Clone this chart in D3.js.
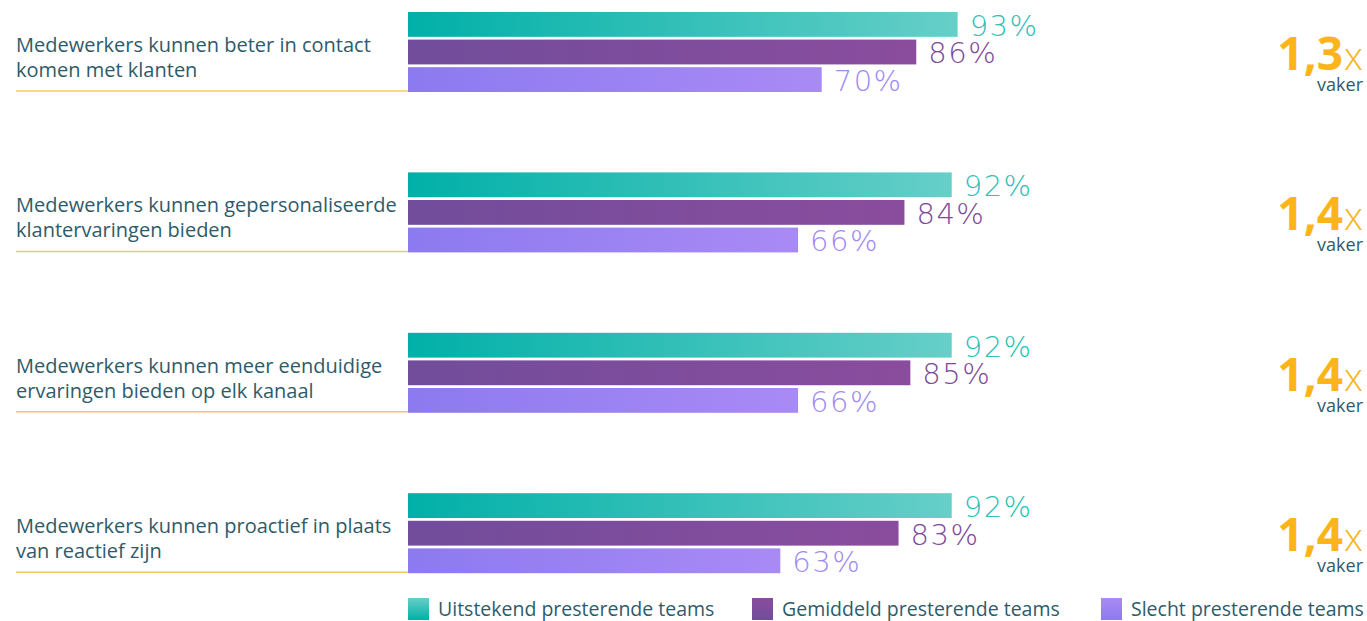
<!DOCTYPE html>
<html>
<head>
<meta charset="utf-8">
<script src="https://cdn.jsdelivr.net/npm/d3@7/dist/d3.min.js"></script>
<style>
  html, body { margin: 0; padding: 0; background: #ffffff; }
  svg { display: block; }
</style>
</head>
<body>
<svg id="chart" width="1367" height="621"></svg>
<script>
// Statements (two lines each)
const categories = [
  ["Medewerkers kunnen beter in contact", "komen met klanten"],
  ["Medewerkers kunnen gepersonaliseerde", "klantervaringen bieden"],
  ["Medewerkers kunnen meer eenduidige", "ervaringen bieden op elk kanaal"],
  ["Medewerkers kunnen proactief in plaats", "van reactief zijn"]
];
const seriesNames = ["Uitstekend presterende teams", "Gemiddeld presterende teams", "Slecht presterende teams"];
const highValues = [93, 92, 92, 92];
const avgValues = [86, 84, 85, 83];
const lowValues = [70, 66, 66, 63];
const multipliers = ["1,3", "1,4", "1,4", "1,4"];

const seriesColors = [
  { from: "#00b0a8", to: "#66cfc8", text: "#2fbfb5" },
  { from: "#714d9b", to: "#8a4c9d", text: "#7d4a9a" },
  { from: "#8c7af0", to: "#a98af5", text: "#a08af2" }
];

const svg = d3.select("#chart");
const defs = svg.append("defs");
seriesColors.forEach((c, i) => {
  const g = defs.append("linearGradient").attr("id", "bar" + i)
    .attr("x1", "0%").attr("x2", "100%").attr("y1", "0%").attr("y2", "0%");
  g.append("stop").attr("offset", "0%").attr("stop-color", c.from);
  g.append("stop").attr("offset", "100%").attr("stop-color", c.to);
  const v = defs.append("linearGradient").attr("id", "leg" + i)
    .attr("x1", "0%").attr("x2", "0%").attr("y1", "0%").attr("y2", "100%");
  v.append("stop").attr("offset", "0%").attr("stop-color", c.to);
  v.append("stop").attr("offset", "100%").attr("stop-color", c.from);
});

const rows = categories.map((lines, i) => ({
  key: i, lines, mult: multipliers[i],
  values: [highValues[i], avgValues[i], lowValues[i]]
}));

const y = d3.scaleBand().domain(rows.map(d => d.key)).range([12, 12 + 4 * 160.4]).padding(0);
const yInner = d3.scaleBand().domain([0, 1, 2]).range([0, 80]).paddingInner(0.1);
const x = d3.scaleLinear().domain([0, 100]).range([408, 999]);

const labelFont = "'Open Sans', sans-serif";
const textColor = "#2e5b6a";

const grp = svg.selectAll("g.row").data(rows).join("g")
  .attr("class", "row")
  .attr("transform", d => `translate(0,${y(d.key)})`);

// Statement text
grp.each(function (d) {
  const g = d3.select(this);
  d.lines.forEach((line, j) => {
    g.append("text")
      .attr("x", 16).attr("y", 40 + j * 25)
      .attr("font-family", labelFont).attr("font-size", 20)
      .attr("fill", textColor)
      .text(line);
  });
});

// Separator under each statement
grp.append("line")
  .attr("x1", 16).attr("x2", x(0))
  .attr("y1", 79).attr("y2", 79)
  .attr("stroke", "#f8c46a").attr("stroke-width", 1.5);

// Bars
grp.selectAll("rect.bar").data(d => d.values.map((v, i) => ({ v, i }))).join("rect")
  .attr("class", "bar")
  .attr("x", x(0))
  .attr("y", d => yInner(d.i))
  .attr("width", d => x(d.v) - x(0))
  .attr("height", yInner.bandwidth())
  .attr("fill", d => `url(#bar${d.i})`);

// Value labels
grp.selectAll("text.val").data(d => d.values.map((v, i) => ({ v, i }))).join("text")
  .attr("class", "val")
  .attr("x", d => x(d.v) + 12)
  .attr("y", d => yInner(d.i) + yInner.bandwidth() - 1)
  .attr("font-family", "'DejaVu Sans', sans-serif").attr("font-weight", 200)
  .attr("font-size", 29)
  .attr("letter-spacing", 1.5)
  .attr("fill", d => seriesColors[d.i].text)
  .text(d => d.v + "%");

// Multiplier
const mt = grp.append("text")
  .attr("x", 1363).attr("y", 58)
  .attr("text-anchor", "end")
  .attr("font-family", labelFont)
  .attr("fill", "#fbb41a");
mt.append("tspan").attr("font-size", 46).attr("font-weight", 700).text(d => d.mult);
mt.append("tspan").attr("font-size", 38).attr("font-weight", 300).attr("dx", 1).text("x");

grp.append("text")
  .attr("x", 1363).attr("y", 79)
  .attr("text-anchor", "end")
  .attr("font-family", labelFont).attr("font-size", 18)
  .attr("fill", textColor)
  .text("vaker");

// Legend
const legendX = [408, 752, 1101];
const leg = svg.selectAll("g.legend").data(seriesNames).join("g")
  .attr("class", "legend")
  .attr("transform", (d, i) => `translate(${legendX[i]},598)`);
leg.append("rect").attr("width", 21).attr("height", 22)
  .attr("fill", (d, i) => `url(#leg${i})`);
leg.append("text").attr("x", 30).attr("y", 18)
  .attr("font-family", labelFont).attr("font-size", 19.5)
  .attr("fill", textColor)
  .text(d => d);
</script>
</body>
</html>
